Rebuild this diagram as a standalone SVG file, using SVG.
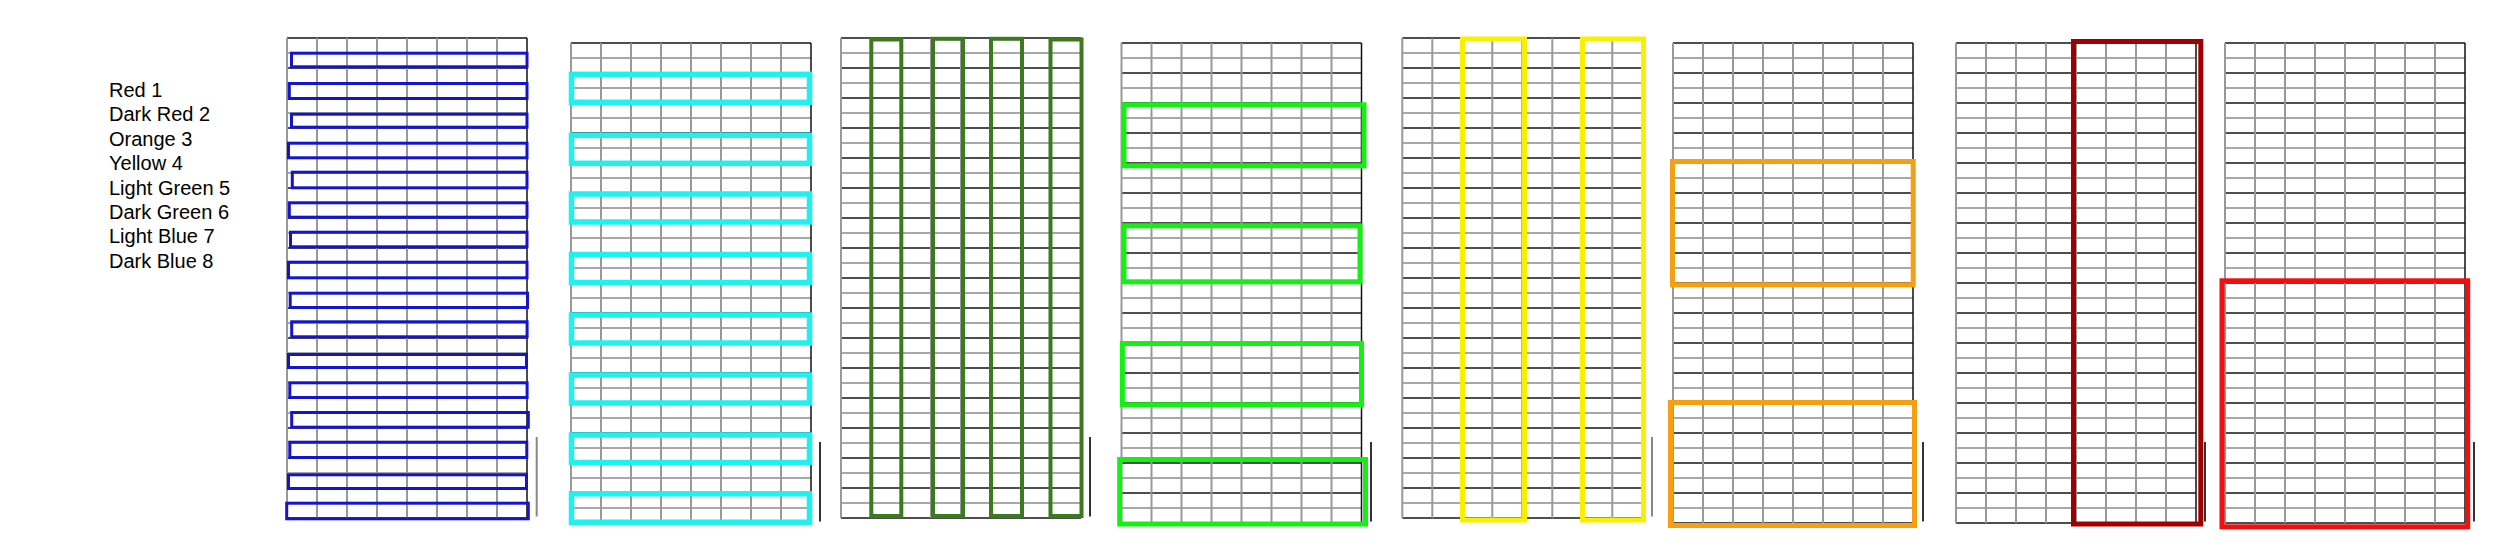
<svg xmlns="http://www.w3.org/2000/svg" xmlns:xlink="http://www.w3.org/1999/xlink" width="2500" height="558" viewBox="0 0 2500 558">
<style>
.lbl{font-family:"Liberation Sans",Arial,sans-serif;font-size:20px;fill:#000}
.hg{stroke:#a8a8a8;stroke-width:2;fill:none}
.hb{stroke:#151515;stroke-width:1.3;fill:none}
.vg{stroke:#999;stroke-width:2;fill:none}
.vb{stroke:#111;stroke-width:1.5;fill:none}
.bar{stroke:#333;stroke-width:2}
.barg{stroke:#888;stroke-width:2}
.box{fill:none}
.blue{stroke:#1414cc;stroke-width:3}
.cyan{stroke:#1ff0f0;stroke-width:5.5}
.dgreen{stroke:#3b7a1f;stroke-width:4}
.lgreen{stroke:#14f014;stroke-width:5}
.yellow{stroke:#f8f000;stroke-width:5}
.orange{stroke:#f5a014;stroke-width:5}
.dred{stroke:#a00000;stroke-width:5}
.red{stroke:#f01010;stroke-width:5}
</style>
<defs>
<g id="grid">
<path class="hg" d="M0 15H240M0 45H240M0 75H240M0 105H240M0 135H240M0 165H240M0 195H240M0 225H240M0 255H240M0 285H240M0 315H240M0 345H240M0 375H240M0 405H240M0 435H240M0 465H240"/>
<path class="hb" d="M0 0H240M0 30H240M0 60H240M0 90H240M0 120H240M0 150H240M0 180H240M0 210H240M0 240H240M0 270H240M0 300H240M0 330H240M0 360H240M0 390H240M0 420H240M0 450H240M0 480H240"/>
<path class="vg" d="M0 0V480M30 0V480M60 0V480M90 0V480M120 0V480M150 0V480M180 0V480M210 0V480"/>
<path class="vb" d="M240 0V480"/>
</g>
</defs>
<rect width="2500" height="558" fill="#fff"/>
<g id="legend">
<text class="lbl" x="109" y="96.5">Red 1</text>
<text class="lbl" x="109" y="121">Dark Red 2</text>
<text class="lbl" x="109" y="145.5">Orange 3</text>
<text class="lbl" x="109" y="170">Yellow 4</text>
<text class="lbl" x="109" y="194.5">Light Green 5</text>
<text class="lbl" x="109" y="218.5">Dark Green 6</text>
<text class="lbl" x="109" y="243">Light Blue 7</text>
<text class="lbl" x="109" y="267.5">Dark Blue 8</text>
</g>
<g id="grid1">
<use xlink:href="#grid" href="#grid" transform="translate(287,38)"/>
<g class="box blue">
<rect x="291.5" y="53.2" width="235.5" height="13.6"/>
<rect x="289.3" y="83.5" width="237.7" height="15"/>
<rect x="291.5" y="114.2" width="235.5" height="13"/>
<rect x="288.5" y="143.2" width="238.5" height="14.6"/>
<rect x="292.3" y="172.2" width="234.7" height="15.6"/>
<rect x="289.3" y="202.8" width="237.7" height="14.4"/>
<rect x="290.5" y="232.2" width="236.5" height="14.6"/>
<rect x="288.5" y="262.2" width="238.5" height="15.6"/>
<rect x="290.2" y="293.2" width="237.3" height="14.3"/>
<rect x="291.7" y="321.8" width="235.4" height="15"/>
<rect x="288.5" y="354.5" width="238" height="13"/>
<rect x="289.8" y="382.8" width="237.3" height="14.7"/>
<rect x="291.7" y="412.5" width="236.6" height="14.7"/>
<rect x="289.8" y="442.2" width="237" height="15.3"/>
<rect x="288.5" y="474.8" width="238" height="13.7"/>
<rect x="286.7" y="503.2" width="241.6" height="15.6"/>
</g>
</g>
<g id="grid2">
<use xlink:href="#grid" href="#grid" transform="translate(571,43)"/>
<g class="box cyan">
<rect x="571.5" y="74.3" width="238" height="28"/>
<rect x="571.5" y="135.3" width="238" height="28"/>
<rect x="571.5" y="194" width="238" height="28"/>
<rect x="571.5" y="254.5" width="238" height="28"/>
<rect x="571.5" y="315" width="238" height="28"/>
<rect x="571.5" y="375" width="238" height="28"/>
<rect x="571.5" y="435" width="238" height="27.5"/>
<rect x="571.5" y="493.8" width="238" height="28.4"/>
</g>
</g>
<g id="grid3">
<use xlink:href="#grid" href="#grid" transform="translate(841,38)"/>
<g class="box dgreen">
<rect x="871.3" y="39.5" width="30" height="476.5"/>
<rect x="933" y="38.8" width="30" height="477.2"/>
<rect x="991" y="38.8" width="31" height="477.2"/>
<rect x="1050.5" y="39.5" width="31" height="476.5"/>
</g>
</g>
<g id="grid4">
<use xlink:href="#grid" href="#grid" transform="translate(1121.5,43)"/>
<g class="box lgreen">
<rect x="1124" y="104.8" width="240" height="61"/>
<rect x="1124" y="225.8" width="236" height="56"/>
<rect x="1122.4" y="343.5" width="239.1" height="61.3"/>
<rect x="1119.7" y="459.5" width="245.8" height="64.5"/>
</g>
</g>
<g id="grid5">
<use xlink:href="#grid" href="#grid" transform="translate(1402.3,38)"/>
<g class="box yellow">
<rect x="1462.5" y="39" width="62" height="481"/>
<rect x="1582.5" y="39" width="61" height="481"/>
</g>
</g>
<g id="grid6">
<use xlink:href="#grid" href="#grid" transform="translate(1673,43)"/>
<g class="box orange">
<rect x="1672.5" y="161.5" width="240.7" height="123.3"/>
<rect x="1670.5" y="402.5" width="244" height="123"/>
</g>
</g>
<g id="grid7">
<use xlink:href="#grid" href="#grid" transform="translate(1956,43)"/>
<rect class="box dred" x="2073.5" y="41.5" width="127.3" height="482.5"/>
</g>
<g id="grid8">
<use xlink:href="#grid" href="#grid" transform="translate(2225,43)"/>
<rect class="box red" x="2222" y="280.8" width="245.7" height="246"/>
</g>
<g id="bars">
<line class="barg" x1="536.7" y1="437" x2="536.7" y2="516.5"/>
<line class="bar" x1="820" y1="442" x2="820" y2="521.5"/>
<line class="bar" x1="1090" y1="437" x2="1090" y2="516.5"/>
<line class="bar" x1="1371" y1="442" x2="1371" y2="521.5"/>
<line class="barg" x1="1652" y1="437" x2="1652" y2="516.5"/>
<line class="bar" x1="1923" y1="442" x2="1923" y2="521.5"/>
<line class="bar" x1="2205" y1="442" x2="2205" y2="521.5"/>
<line class="bar" x1="2474" y1="442" x2="2474" y2="521.5"/>
</g>
</svg>
